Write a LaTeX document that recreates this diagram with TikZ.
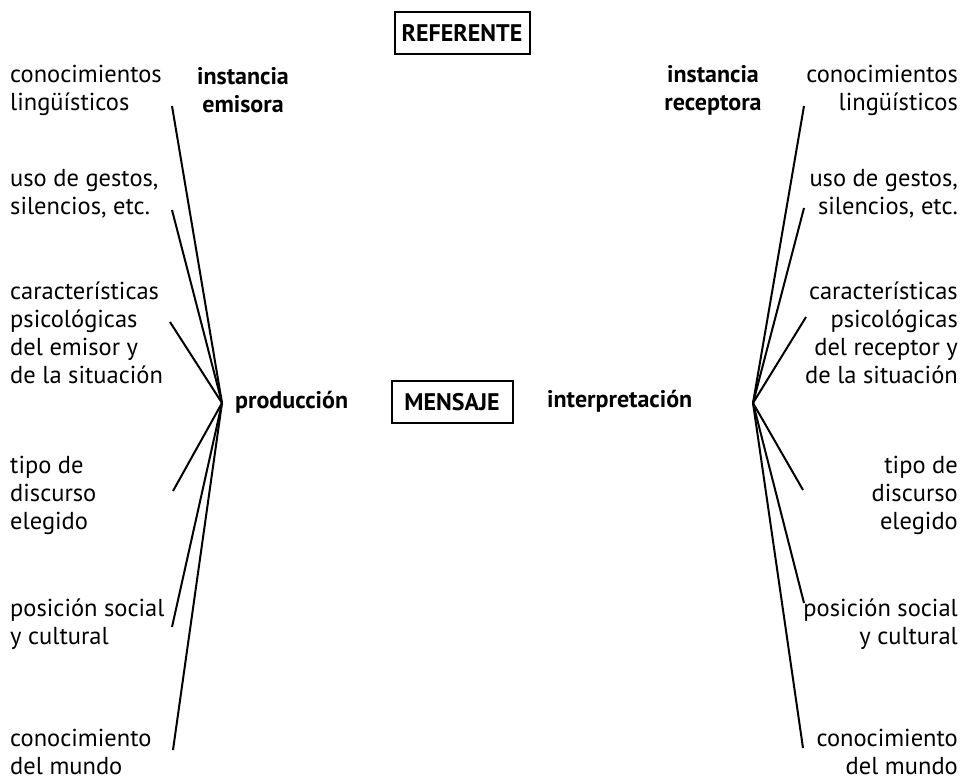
\documentclass[tikz,border=0pt]{standalone}
\usepackage{fontspec}
\setmainfont{PT Sans}
\begin{document}
\begin{tikzpicture}[x=1pt,y=-1pt,
  lbl/.style={inner sep=0pt, font=\fontsize{24.5}{28}\selectfont},
  lleft/.style={lbl, anchor=west, align=left},
  lright/.style={lbl, anchor=east, align=right},
  hd/.style={inner sep=0pt, font=\fontsize{24}{28}\selectfont\bfseries, align=center},
  boxed/.style={draw, line width=2pt, inner sep=0pt, font=\fontsize{24}{28}\selectfont\bfseries},
  ray/.style={line width=2pt}]
\useasboundingbox (0,0) rectangle (968,781);
\fill[white] (0,0) rectangle (968,781);

% boxes
\node[boxed, minimum width=135pt, minimum height=42pt] (ref) at (462,33) {REFERENTE};
\node[boxed, minimum width=121pt, minimum height=42pt] (men) at (452,402) {MENSAJE};

% headings
\node[hd] (emi) at (243,90) {instancia\\emisora};
\node[hd] (rec) at (713,90) {instancia\\receptora};
\node[hd, anchor=west] (prod) at (235,402) {producción};
\node[hd, anchor=west] (interp) at (547,401) {interpretación};

% left labels
\node[lleft] (l1) at (10,90) {conocimientos\\lingüísticos};
\node[lleft] (l2) at (10,194) {uso de gestos,\\silencios, etc.};
\node[lleft] (l3) at (10,333) {características\\psicológicas\\del emisor y\\de la situación};
\node[lleft] (l4) at (10,495) {tipo de\\discurso\\elegido};
\node[lleft] (l5) at (10,624) {posición social\\y cultural};
\node[lleft] (l6) at (10,752) {conocimiento\\del mundo};

% right labels
\node[lright] (r1) at (958,90) {conocimientos\\lingüísticos};
\node[lright] (r2) at (958,194) {uso de gestos,\\silencios, etc.};
\node[lright] (r3) at (958,333) {características\\psicológicas\\del receptor y\\de la situación};
\node[lright] (r4) at (958,495) {tipo de\\discurso\\elegido};
\node[lright] (r5) at (958,624) {posición social\\y cultural};
\node[lright] (r6) at (958,752) {conocimiento\\del mundo};

% hubs
\coordinate (hl) at (222,403);
\coordinate (hr) at (753,403);

% left ray ends
\coordinate (el1) at (172,106);
\coordinate (el2) at (172,210);
\coordinate (el3) at (170,322);
\coordinate (el4) at (173,491);
\coordinate (el5) at (172,627);
\coordinate (el6) at (173,750);

% right ray ends
\coordinate (er1) at (804,106);
\coordinate (er2) at (804,208);
\coordinate (er3) at (806,317);
\coordinate (er4) at (803,490);
\coordinate (er5) at (804,603);
\coordinate (er6) at (803,748);

\foreach \i in {1,...,6} {
  \draw[ray] (hl) -- (el\i);
  \draw[ray] (hr) -- (er\i);
}
\end{tikzpicture}
\end{document}
